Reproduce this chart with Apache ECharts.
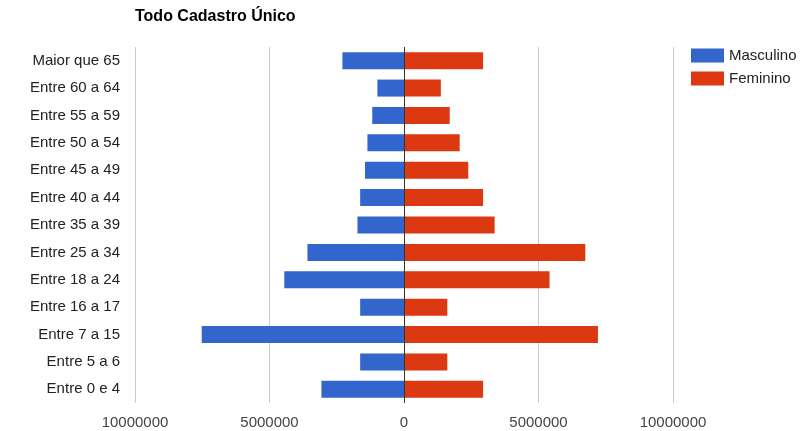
<!DOCTYPE html>
<html>
<head>
<meta charset="utf-8">
<script src="https://cdn.jsdelivr.net/npm/echarts@6/dist/echarts.min.js"></script>
<style>
  html, body { margin: 0; padding: 0; background: #fff; }
  #chart { width: 805px; height: 431px; }
</style>
</head>
<body>
<div id="chart"></div>
<script>
// faixas etárias, de cima para baixo
const categories = ['Maior que 65', 'Entre 60 a 64', 'Entre 55 a 59', 'Entre 50 a 54', 'Entre 45 a 49',
  'Entre 40 a 44', 'Entre 35 a 39', 'Entre 25 a 34', 'Entre 18 a 24', 'Entre 16 a 17',
  'Entre 7 a 15', 'Entre 5 a 6', 'Entre 0 e 4']
// masculino (negativo, lado esquerdo)
const masculino = [-2290000, -990000, -1180000, -1360000, -1450000, -1630000, -1730000,
  -3590000, -4450000, -1630000, -7520000, -1630000, -3070000]
const feminino = [2940000, 1370000, 1700000, 2070000, 2390000, 2940000, 3370000,
  6740000, 5410000, 1610000, 7210000, 1610000, 2940000]
const xTicks = [-10000000, -5000000, 0, 5000000, 10000000]

const font = 'Arial, "Liberation Sans", sans-serif'
const chart = echarts.init(document.getElementById('chart'))

chart.setOption({
  animation: false,
  title: {
    text: 'Todo Cadastro Único',
    left: 130,
    top: 4,
    textStyle: { fontFamily: font, fontSize: 16, fontWeight: 'bold', color: '#000' }
  },
  legend: {
    orient: 'vertical',
    left: 686,
    top: 43,
    itemWidth: 33,
    itemHeight: 14,
    itemGap: 8,
    icon: 'rect',
    textStyle: { fontFamily: font, fontSize: 15, color: '#222' },
    data: ['Masculino', 'Feminino']
  },
  grid: { left: 135, right: 132, top: 47, bottom: 28, containLabel: false },
  xAxis: {
    type: 'value',
    min: xTicks[0],
    max: xTicks[xTicks.length - 1],
    interval: 5000000,
    axisLine: { show: false },
    axisTick: { show: false },
    splitLine: { lineStyle: { color: '#cccccc', width: 1 } },
    axisLabel: {
      fontFamily: font, fontSize: 15, color: '#444', margin: 12,
      formatter: v => String(Math.abs(v))
    }
  },
  yAxis: {
    type: 'category',
    data: categories,
    inverse: true,
    axisLine: { show: false },
    axisTick: { show: false },
    axisLabel: { fontFamily: font, fontSize: 15, color: '#222', margin: 15 }
  },
  series: [
    {
      name: 'Masculino',
      type: 'bar',
      stack: 'pop',
      barWidth: 17,
      itemStyle: { color: '#3366cc' },
      data: masculino,
      markLine: {
        silent: true,
        symbol: 'none',
        label: { show: false },
        lineStyle: { color: '#333', type: 'solid', width: 1 },
        data: [{ xAxis: 0 }]
      }
    },
    {
      name: 'Feminino',
      type: 'bar',
      stack: 'pop',
      barWidth: 17,
      itemStyle: { color: '#dc3912' },
      data: feminino
    }
  ]
})
</script>
</body>
</html>
